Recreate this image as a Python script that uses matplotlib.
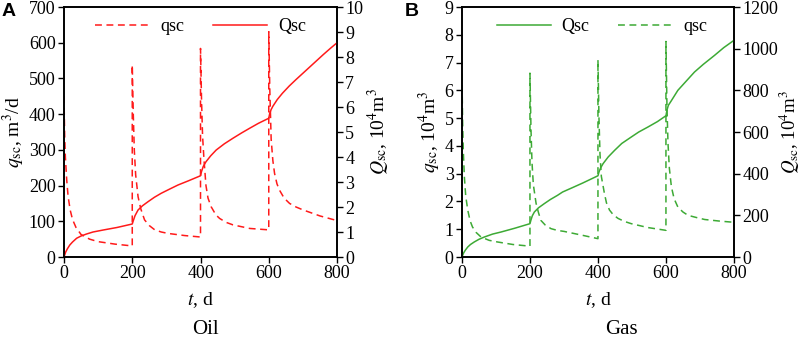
import numpy as np
import matplotlib
matplotlib.use('Agg')
import matplotlib.pyplot as plt

plt.rcParams['font.family'] = ['Liberation Serif', 'DejaVu Serif']
plt.rcParams['mathtext.fontset'] = 'stix'

# ---- Oil (panel A) ----
oil_q_t = [0, 1, 2, 4, 8, 12, 18, 25, 35, 50, 75, 100, 150, 200,
           200, 203, 206, 210, 217, 225, 236, 250, 266, 285, 305, 354, 400,
           400, 403, 406, 410, 416, 422, 431, 445, 456, 475, 495, 544, 600,
           600, 603, 607, 612, 617, 624, 631, 645, 661, 680, 700, 750, 800]
oil_q = [450, 390, 340, 280, 215, 170, 132, 105, 83, 63, 50, 43, 36, 31,
         538, 400, 300, 230, 169, 135, 104, 88, 76, 70, 66, 60, 56,
         584, 440, 340, 275, 200, 165, 141, 118, 108, 97, 90, 80, 76,
         631, 470, 330, 270, 234, 205, 188, 165, 150, 140, 132, 115, 102]

oil_Q_t = [0, 5, 10, 17, 25, 37, 50, 66, 85, 115, 155, 200, 203, 208, 217, 230, 246, 265, 285, 310, 334, 365, 400,
           403, 408, 416, 430, 446, 470, 495, 520, 544, 570, 600,
           603, 607, 612, 625, 640, 660, 680, 700, 720, 740, 760, 780, 800]
oil_Q = [0, 0.2, 0.33, 0.48, 0.6, 0.75, 0.84, 0.92, 1.0, 1.08, 1.18, 1.32, 1.45, 1.65, 1.88, 2.05, 2.21, 2.39, 2.55, 2.72, 2.88, 3.05, 3.25,
         3.42, 3.62, 3.81, 4.05, 4.28, 4.53, 4.75, 4.96, 5.15, 5.35, 5.55,
         5.75, 5.9, 6.03, 6.3, 6.55, 6.84, 7.1, 7.35, 7.6, 7.85, 8.1, 8.34, 8.57]

# ---- Gas (panel B) ----
gas_q_t = [0, 1, 2, 4, 7, 11, 17, 24, 31, 42, 56, 80, 105, 150, 200,
           200, 203, 206, 210, 218, 225, 232, 245, 262, 280, 301, 355, 400,
           400, 403, 406, 410, 419, 425, 434, 445, 459, 478, 498, 547, 600,
           600, 603, 606, 610, 616, 624, 635, 650, 665, 690, 714, 760, 800]
gas_q = [6.6, 5.6, 4.8, 3.8, 2.9, 2.2, 1.69, 1.3, 1.08, 0.88, 0.72, 0.6, 0.54, 0.45, 0.39,
         6.62, 4.6, 3.4, 2.6, 1.93, 1.6, 1.32, 1.15, 1.02, 0.96, 0.92, 0.78, 0.66,
         7.1, 5.0, 3.7, 2.9, 2.29, 1.95, 1.69, 1.52, 1.39, 1.28, 1.2, 1.06, 0.96,
         7.76, 5.4, 4.1, 3.2, 2.53, 2.1, 1.8, 1.62, 1.5, 1.42, 1.35, 1.29, 1.25]

gas_Q_t = [0, 5, 10, 17, 25, 36, 50, 66, 90, 115, 155, 200, 203, 207, 213, 225, 242, 260, 281, 296, 325, 355, 400,
           403, 408, 415, 430, 449, 470, 498, 520, 547, 575, 600,
           603, 607, 615, 635, 660, 684, 710, 743, 770, 800]
gas_Q = [0, 20, 33, 48, 60, 72, 85, 96, 110, 120, 138, 160, 178, 198, 216, 236, 256, 276, 296, 312, 333, 355, 390,
         408, 428, 448, 480, 512, 545, 576, 600, 624, 650, 678,
         705, 728, 748, 800, 845, 888, 925, 968, 1005, 1040]

red = '#ff1a1a'
green = '#3daa35'
tick_fs = 13
label_fs = 14
dash = (4.5, 3)

fig = plt.figure(figsize=(8.03, 3.44), dpi=100)
axA = fig.add_axes([0.0797, 0.2529, 0.34, 0.7267])
axB = fig.add_axes([0.5753, 0.2529, 0.3387, 0.7267])


def style(ax):
    ax.tick_params(direction='out', length=4, width=1, labelsize=tick_fs, pad=2)
    for s in ax.spines.values():
        s.set_linewidth(1.2)


# panel A
axA2 = axA.twinx()
l1, = axA.plot(oil_q_t, oil_q, color=red, lw=1.1, dashes=dash, label='qsc')
l2, = axA2.plot(oil_Q_t, oil_Q, color=red, lw=1.1, label='Qsc')
axA.set_xlim(0, 800)
axA.set_ylim(0, 700)
axA2.set_ylim(0, 10)
axA.set_xticks([0, 200, 400, 600, 800])
axA.set_yticks(range(0, 701, 100))
axA2.set_yticks(range(0, 11))
axA.set_xlabel(r'$t$, d', fontsize=label_fs, labelpad=6)
axA.set_ylabel(r'$q_{\mathrm{sc}}$, m$^3$/d', fontsize=label_fs, labelpad=1)
axA2.set_ylabel(r'$Q_{\mathrm{sc}}$, 10$^4$m$^3$', fontsize=label_fs, labelpad=2)
style(axA)
style(axA2)
axA2.legend([l1, l2], ['qsc', 'Qsc'], loc='upper center', ncol=2, frameon=False,
            fontsize=tick_fs, handlelength=3.0, columnspacing=1.6, handletextpad=0.6,
            bbox_to_anchor=(0.5, 1.0), borderaxespad=0.2)

# panel B
axB2 = axB.twinx()
g1, = axB.plot(gas_q_t, gas_q, color=green, lw=1.1, dashes=dash, label='qsc')
g2, = axB2.plot(gas_Q_t, gas_Q, color=green, lw=1.1, label='Qsc')
axB.set_xlim(0, 800)
axB.set_ylim(0, 9)
axB2.set_ylim(0, 1200)
axB.set_xticks([0, 200, 400, 600, 800])
axB.set_yticks(range(0, 10))
axB2.set_yticks(range(0, 1201, 200))
axB.set_xlabel(r'$t$, d', fontsize=label_fs, labelpad=6)
axB.set_ylabel(r'$q_{\mathrm{sc}}$, 10$^4$m$^3$', fontsize=label_fs, labelpad=1)
axB2.set_ylabel(r'$Q_{\mathrm{sc}}$, 10$^4$m$^3$', fontsize=13.5, labelpad=0)
style(axB)
style(axB2)
axB2.legend([g2, g1], ['Qsc', 'qsc'], loc='upper center', ncol=2, frameon=False,
            fontsize=tick_fs, handlelength=3.0, columnspacing=1.6, handletextpad=0.6,
            bbox_to_anchor=(0.515, 1.0), borderaxespad=0.2)

fig.text(205 / 803, 1 - 330 / 344, 'Oil', ha='center', va='center', fontsize=15)
fig.text(621 / 803, 1 - 330 / 344, 'Gas', ha='center', va='center', fontsize=15)
fig.text(2 / 803, 1 - 11 / 344, 'A', ha='left', va='center', fontsize=14,
         fontweight='bold', family='Liberation Sans')
fig.text(405 / 803, 1 - 11 / 344, 'B', ha='left', va='center', fontsize=14,
         fontweight='bold', family='Liberation Sans')

fig.savefig('out.png', dpi=100)
